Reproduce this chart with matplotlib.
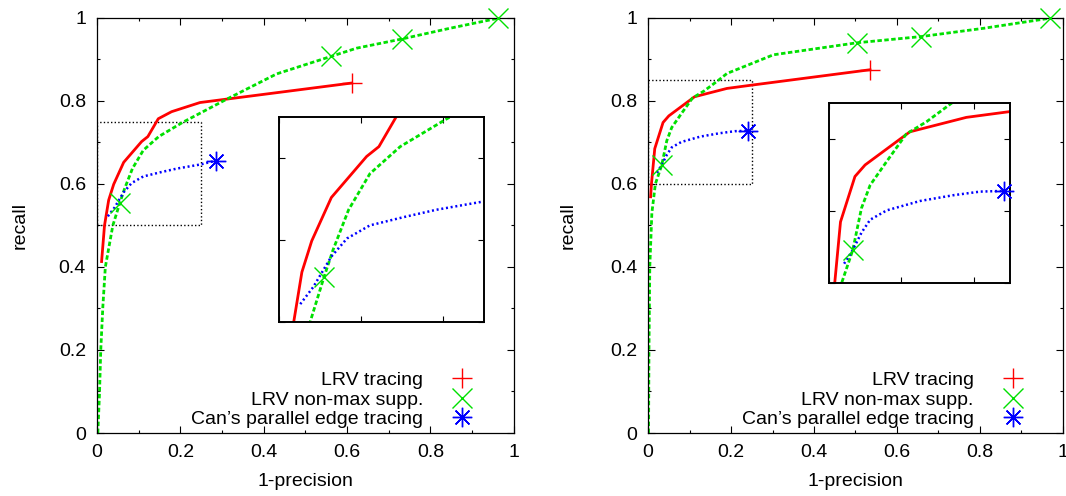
import numpy as np
import matplotlib
matplotlib.use("Agg")
import matplotlib.pyplot as plt
from matplotlib.patches import Rectangle
from matplotlib.ticker import MultipleLocator

plt.rcParams['font.family'] = ['Liberation Sans', 'DejaVu Sans']
plt.rcParams['font.size'] = 14

# --- left panel: precision/recall curves ---
left_trace_x = [0.011, 0.018, 0.028, 0.040, 0.064, 0.107, 0.122, 0.147, 0.179, 0.247, 0.611]
left_trace_y = [0.413, 0.500, 0.561, 0.599, 0.652, 0.702, 0.714, 0.757, 0.774, 0.796, 0.843]
left_trace_pts_x = [0.611]
left_trace_pts_y = [0.843]

left_nms_x = [0.002, 0.006, 0.009, 0.014, 0.020, 0.038, 0.055, 0.066, 0.085, 0.111,
              0.148, 0.205, 0.311, 0.431, 0.561, 0.623, 0.731, 0.847, 0.962]
left_nms_y = [0.000, 0.096, 0.200, 0.304, 0.400, 0.500, 0.555, 0.588, 0.637, 0.681,
              0.714, 0.748, 0.804, 0.865, 0.907, 0.927, 0.949, 0.975, 0.999]
left_nms_pts_x = [0.055, 0.561, 0.731, 0.962]
left_nms_pts_y = [0.555, 0.907, 0.949, 0.999]

left_can_x = [0.026, 0.042, 0.064, 0.083, 0.111, 0.152, 0.192, 0.249, 0.285]
left_can_y = [0.522, 0.543, 0.580, 0.602, 0.618, 0.628, 0.637, 0.647, 0.656]
left_can_pts_x = [0.285]
left_can_pts_y = [0.656]

left_zoom_x = (0.0, 0.25)
left_zoom_y = (0.5, 0.75)

# --- right panel ---
right_trace_x = [0.006, 0.008, 0.016, 0.036, 0.050, 0.112, 0.190, 0.250, 0.535]
right_trace_y = [0.569, 0.600, 0.685, 0.748, 0.764, 0.810, 0.830, 0.838, 0.875]
right_trace_pts_x = [0.535]
right_trace_pts_y = [0.875]

right_nms_x = [0.001, 0.002, 0.004, 0.009, 0.0175, 0.033, 0.045, 0.057, 0.080, 0.107,
               0.135, 0.170, 0.190, 0.302, 0.504, 0.659, 0.810, 0.968]
right_nms_y = [0.000, 0.200, 0.400, 0.530, 0.600, 0.646, 0.704, 0.736, 0.769, 0.807,
               0.824, 0.850, 0.866, 0.911, 0.940, 0.955, 0.975, 0.999]
right_nms_pts_x = [0.033, 0.504, 0.659, 0.968]
right_nms_pts_y = [0.646, 0.940, 0.955, 0.999]

right_can_x = [0.021, 0.033, 0.045, 0.057, 0.080, 0.126, 0.172, 0.209, 0.242]
right_can_y = [0.627, 0.646, 0.670, 0.688, 0.701, 0.714, 0.722, 0.727, 0.728]
right_can_pts_x = [0.242]
right_can_pts_y = [0.728]

right_zoom_x = (0.0, 0.25)
right_zoom_y = (0.6, 0.85)

labels = ["LRV tracing", "LRV non-max supp.", "Can\u2019s parallel edge tracing"]

# line / marker styles per method
RED, GREEN, BLUE = '#ff0000', '#00e000', '#0000ff'
line_styles = [
    dict(color=RED, lw=2.0, ls='-'),
    dict(color=GREEN, lw=2.0, dashes=(1.6, 0.9)),
    dict(color=BLUE, lw=1.8, dashes=(0.8, 1.1)),
]
marker_styles = [
    dict(color=RED, marker='+', ms=14, mew=1.0, ls='none'),
    dict(color=GREEN, marker='x', ms=14, mew=1.0, ls='none'),
    dict(color=BLUE, marker=(8, 2, 0), ms=14, mew=1.0, ls='none'),
]


def style_ticks(ax, major, minor, maj_len=5, min_len=2.5, labels_on=True):
    ax.xaxis.set_major_locator(MultipleLocator(major))
    ax.yaxis.set_major_locator(MultipleLocator(major))
    if minor:
        ax.xaxis.set_minor_locator(MultipleLocator(minor))
        ax.yaxis.set_minor_locator(MultipleLocator(minor))
    ax.tick_params(which='both', direction='in', top=True, right=True, width=0.8)
    ax.tick_params(which='major', length=maj_len, pad=8)
    ax.tick_params(which='minor', length=min_len)
    if not labels_on:
        ax.tick_params(labelbottom=False, labelleft=False)


def fmt(v, _pos=None):
    return ('%g' % round(v, 3))


def draw_panel(ax, curves, points, zoom_x, zoom_y, inset_bounds, ylab_x, leg_right):
    handles = []
    for (cx, cy), (px, py), ls, ms in zip(curves, points, line_styles, marker_styles):
        ax.plot(cx, cy, **ls)
        h, = ax.plot(px, py, clip_on=False, zorder=5, **ms)
        handles.append(h)

    ax.set_xlim(0, 1)
    ax.set_ylim(0, 1)
    style_ticks(ax, 0.2, 0.1)
    ax.xaxis.set_major_formatter(fmt)
    ax.yaxis.set_major_formatter(fmt)
    for s in ax.spines.values():
        s.set_linewidth(0.9)

    ax.set_xlabel("1-precision")
    ax.set_ylabel("recall")
    ax.xaxis.set_label_coords(0.5, -0.097)
    ax.yaxis.set_label_coords(ylab_x, 0.5)

    # dotted frame marking the zoomed region
    ax.add_patch(Rectangle((zoom_x[0], zoom_y[0]), zoom_x[1] - zoom_x[0],
                           zoom_y[1] - zoom_y[0], fill=False, ec='black',
                           lw=1.0, ls=(0, (1, 1.6))))

    ax.legend(handles, labels, loc='lower right', bbox_to_anchor=(leg_right, 0.012),
              frameon=False, markerfirst=False, handlelength=2.0,
              handletextpad=1.0, labelspacing=0.09, borderpad=0, borderaxespad=0)

    # magnified view
    ins = ax.inset_axes(inset_bounds)
    for (cx, cy), (px, py), ls, ms in zip(curves, points, line_styles, marker_styles):
        ins.plot(cx, cy, **ls)
        px, py = np.asarray(px), np.asarray(py)
        keep = ((px >= zoom_x[0]) & (px <= zoom_x[1]) &
                (py >= zoom_y[0]) & (py <= zoom_y[1]))
        ins.plot(px[keep], py[keep], clip_on=False, zorder=5, **ms)
    ins.set_xlim(*zoom_x)
    ins.set_ylim(*zoom_y)
    style_ticks(ins, 0.1, None, maj_len=4, labels_on=False)
    for s in ins.spines.values():
        s.set_linewidth(1.4)


fig = plt.figure(figsize=(10.66, 4.96), dpi=100)
ax_l = fig.add_axes([0.091, 0.127, 0.391, 0.837])
ax_r = fig.add_axes([0.608, 0.127, 0.389, 0.837])

draw_panel(ax_l,
           [(left_trace_x, left_trace_y), (left_nms_x, left_nms_y), (left_can_x, left_can_y)],
           [(left_trace_pts_x, left_trace_pts_y), (left_nms_pts_x, left_nms_pts_y),
            (left_can_pts_x, left_can_pts_y)],
           left_zoom_x, left_zoom_y, [0.4365, 0.267, 0.4915, 0.494], -0.163, 0.922)

draw_panel(ax_r,
           [(right_trace_x, right_trace_y), (right_nms_x, right_nms_y), (right_can_x, right_can_y)],
           [(right_trace_pts_x, right_trace_pts_y), (right_nms_pts_x, right_nms_pts_y),
            (right_can_pts_x, right_can_pts_y)],
           right_zoom_x, right_zoom_y, [0.436, 0.361, 0.436, 0.434], -0.172, 0.926)

fig.savefig("out.png", dpi=100)
